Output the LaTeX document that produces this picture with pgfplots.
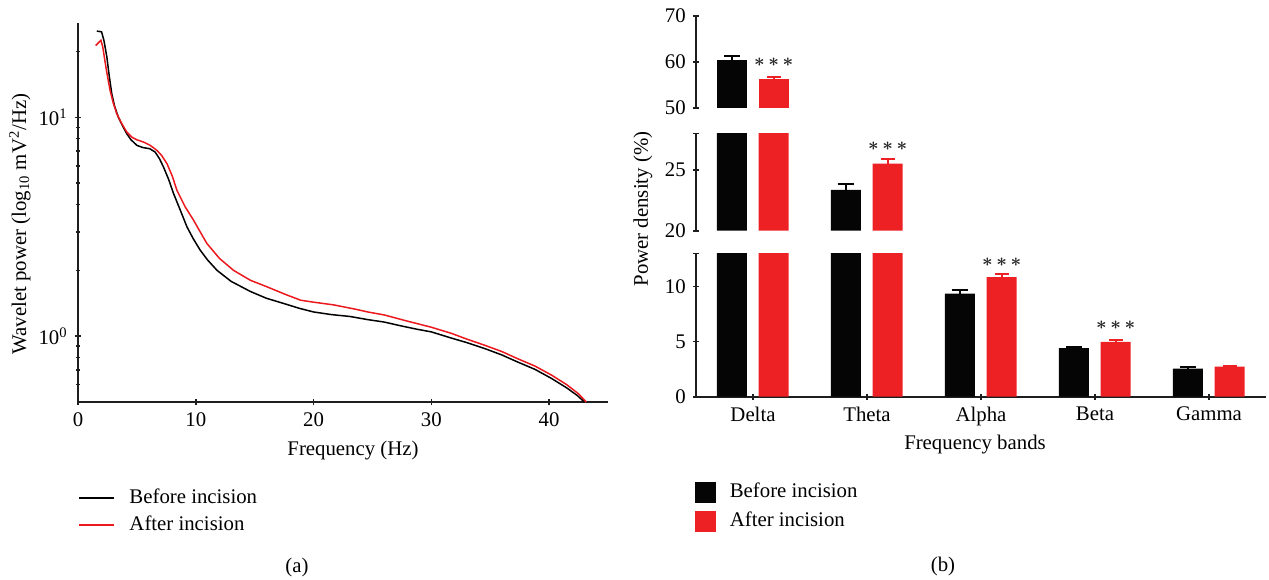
\documentclass[border=0pt]{standalone}
\usepackage{amsmath}
\usepackage{fontspec}
\setmainfont{Liberation Serif}
\usepackage{pgfplots}
\pgfplotsset{compat=1.18}
\usepackage{pgfplotstable}

\definecolor{barred}{RGB}{237,32,36}
\definecolor{barblack}{RGB}{5,5,5}
\definecolor{linered}{RGB}{235,25,30}
\definecolor{axisgray}{RGB}{30,30,30}

% band power, percent: before (b, error be) and after (a, error ae)
\pgfplotstableread{
x b be a ae
0 60.5 0.70 56.2 0.60
1 23.35 0.50 25.5 0.35
2 9.35 0.30 10.85 0.27
3 4.40 0.13 4.97 0.20
4 2.55 0.10 2.72 0.10
}\bands

\pgfplotsset{
  every axis/.append style={
    scale only axis,
    tick style={line width=0.8pt,axisgray},
    tick align=inside,
    major tick length=3pt,
    minor tick length=2pt,
    /pgf/number format/assume math mode=true,
  },
  plainlines/.style={
    axis line style={-,line width=0.8pt,axisgray},
    x axis line style={-}, y axis line style={-},
  },
  seg/.style={
    width=285pt,
    xmin=-0.5, xmax=4.5,
    axis y line=left,
    xtick={0,1,2,3,4},
  },
  before/.style={
    ybar, bar width=15pt, bar shift=0pt, fill=barblack, draw=none,
    error bars/.cd, y dir=plus, y explicit,
    error bar style={line width=1pt,barblack},
    error mark options={rotate=90,barblack,line width=1pt,mark size=4pt},
  },
  after/.style={
    ybar, bar width=15pt, bar shift=0pt, fill=barred, draw=none,
    error bars/.cd, y dir=plus, y explicit,
    error bar style={line width=1pt,barred},
    error mark options={rotate=90,barred,line width=1pt,mark size=3.5pt},
  },
}

\newcommand{\stars}{{\fontsize{9.5}{11}\selectfont$\boldsymbol{\ast}$}}
\newcommand{\threestars}{\stars\hspace{1.8pt}\stars\hspace{1.8pt}\stars}

\begin{document}
\fontsize{10.4}{12.5}\selectfont
\begin{tikzpicture}
\useasboundingbox (0,0) rectangle (634.5pt,-289.5pt);

% ---------- (a) wavelet power spectrum ----------
\begin{axis}[
  at={(39pt,-201pt)}, anchor=south west,
  width=265pt, height=189.5pt,
  ymode=log,
  xmin=0, xmax=45, ymin=0.5, ymax=27,
  axis x line=bottom, axis y line=left, plainlines,
  xtick={0,10,20,30,40},
  ytick={1,10},
  yticklabels={10\textsuperscript{0},10\textsuperscript{1}},
  minor ytick={0.6,0.7,0.8,0.9,2,3,4,5,6,7,8,9,20},
  legend style={at={(0,-0.2296)}, anchor=north west, draw=none, fill=none,
    inner sep=0pt, outer sep=0pt, row sep=4.5pt, column sep=7.5pt,
    nodes={inner sep=0pt, text height=7pt, text depth=2pt}},
  legend cell align=left,
  legend image code/.code={\draw[#1] (0pt,0pt) -- (17.5pt,0pt);},
]
\addplot[line width=0.75pt, black] coordinates {
(1.6,24.8) (2.0,24.6) (2.2,22.5) (2.45,18.9) (2.65,15.5) (2.87,12.8)
(3.1,11.3) (3.43,10.0) (3.8,9.1) (4.14,8.42) (4.5,7.9) (5.0,7.45)
(5.5,7.28) (6.1,7.19) (6.55,6.94) (6.9,6.5) (7.26,5.93) (7.7,5.2)
(8.11,4.49) (8.7,3.75) (9.25,3.16) (9.8,2.78) (10.38,2.47) (11.0,2.23)
(11.8,2.0) (13.0,1.78) (14.64,1.60) (16.0,1.49) (17.47,1.41) (18.8,1.34)
(20.0,1.29) (21.5,1.255) (23.1,1.23) (24.6,1.19) (26.0,1.16) (27.4,1.115)
(28.8,1.075) (30.0,1.046) (31.7,0.98) (33.0,0.935) (34.5,0.879) (36.0,0.82)
(37.3,0.763) (38.8,0.705) (40.2,0.641) (41.5,0.58) (42.4,0.535) (43.0,0.50)
};
\addlegendentry{Before incision}
\addplot[line width=0.75pt, linered] coordinates {
(1.5,21.3) (1.95,22.5) (2.1,21.0) (2.4,16.6) (2.72,13.3) (3.0,11.6)
(3.29,10.4) (3.7,9.4) (4.14,8.57) (4.6,8.1) (5.0,7.9) (5.6,7.7)
(6.13,7.45) (6.7,7.07) (7.1,6.7) (7.55,6.15) (8.0,5.4) (8.4,4.64)
(9.1,3.9) (9.81,3.39) (10.4,2.98) (10.95,2.65) (12.0,2.27) (13.2,2.0)
(14.64,1.80) (16.06,1.68) (17.5,1.56) (18.9,1.46) (20.0,1.43) (21.7,1.39)
(23.5,1.33) (24.6,1.29) (26.0,1.25) (28.0,1.17) (29.96,1.10) (31.7,1.03)
(33.0,0.97) (34.5,0.91) (36.0,0.85) (37.3,0.79) (38.8,0.73) (40.2,0.664)
(41.5,0.60) (42.5,0.545) (43.15,0.50)
};
\addlegendentry{After incision}
\end{axis}

\node at (176.5pt,-225.5pt) {Frequency (Hz)};
\node[rotate=90] at (10pt,-112pt) {Wavelet power (log\textsubscript{10} mV\textsuperscript{2}/Hz)};
\node at (148.5pt,-283.5pt) {(a)};

% ---------- (b) band power, broken y axis ----------
% upper segment 50--70
\begin{axis}[seg,
  at={(348pt,-54pt)}, anchor=south west, height=46pt,
  ymin=50, ymax=70, ytick={50,60,70},
  hide x axis, plainlines,
]
\addplot[restrict y to domain=50:100, before] table[x expr=\thisrow{x}-0.186, y=b, y error=be] {\bands};
\addplot[restrict y to domain=50:100, after] table[x expr=\thisrow{x}+0.181, y=a, y error=ae] {\bands};
\node[text=black!85] at (axis cs:0.181,59.85) {\threestars};
\end{axis}

% middle segment 20--28
\begin{axis}[seg,
  at={(348pt,-115.35pt)}, anchor=south west, height=48.7pt,
  ymin=20, ymax=28, ytick={20,25},
  extra y ticks={28}, extra y tick labels={},
  hide x axis, plainlines,
]
\addplot[restrict y to domain=20:100, before] table[x expr=\thisrow{x}-0.186, y=b, y error=be] {\bands};
\addplot[restrict y to domain=20:100, after] table[x expr=\thisrow{x}+0.181, y=a, y error=ae] {\bands};
\node[text=black!85] at (axis cs:1.181,26.9) {\threestars};
\end{axis}

% lower segment 0--13
\begin{axis}[seg,
  at={(348pt,-198.35pt)}, anchor=south west, height=71.7pt,
  ymin=0, ymax=13, ytick={0,5,10},
  extra y ticks={13}, extra y tick labels={},
  axis x line=bottom, plainlines,
  xticklabels={Delta,Theta,Alpha,Beta,Gamma},
  legend style={at={(-0.002,-0.5948)}, anchor=north west, draw=none, fill=none,
    inner sep=0pt, outer sep=0pt, row sep=4pt, column sep=7pt,
    nodes={inner sep=0pt, text height=7pt, text depth=2pt}},
  legend cell align=left,
  legend image code/.code={\fill[#1] (0pt,-5.25pt) rectangle (10.5pt,5.25pt);},
]
\addplot[before] table[x expr=\thisrow{x}-0.186, y=b, y error=be] {\bands};
\addlegendentry{Before incision}
\addplot[after] table[x expr=\thisrow{x}+0.181, y=a, y error=ae] {\bands};
\addlegendentry{After incision}
\node[text=black!85] at (axis cs:2.181,12.2) {\threestars};
\node[text=black!85] at (axis cs:3.181,6.48) {\threestars};
\end{axis}

\node at (487.5pt,-222.5pt) {Frequency bands};
\node[rotate=90] at (321.5pt,-104.5pt) {Power density (\%)};
\node at (471.5pt,-283pt) {(b)};
\end{tikzpicture}
\end{document}
